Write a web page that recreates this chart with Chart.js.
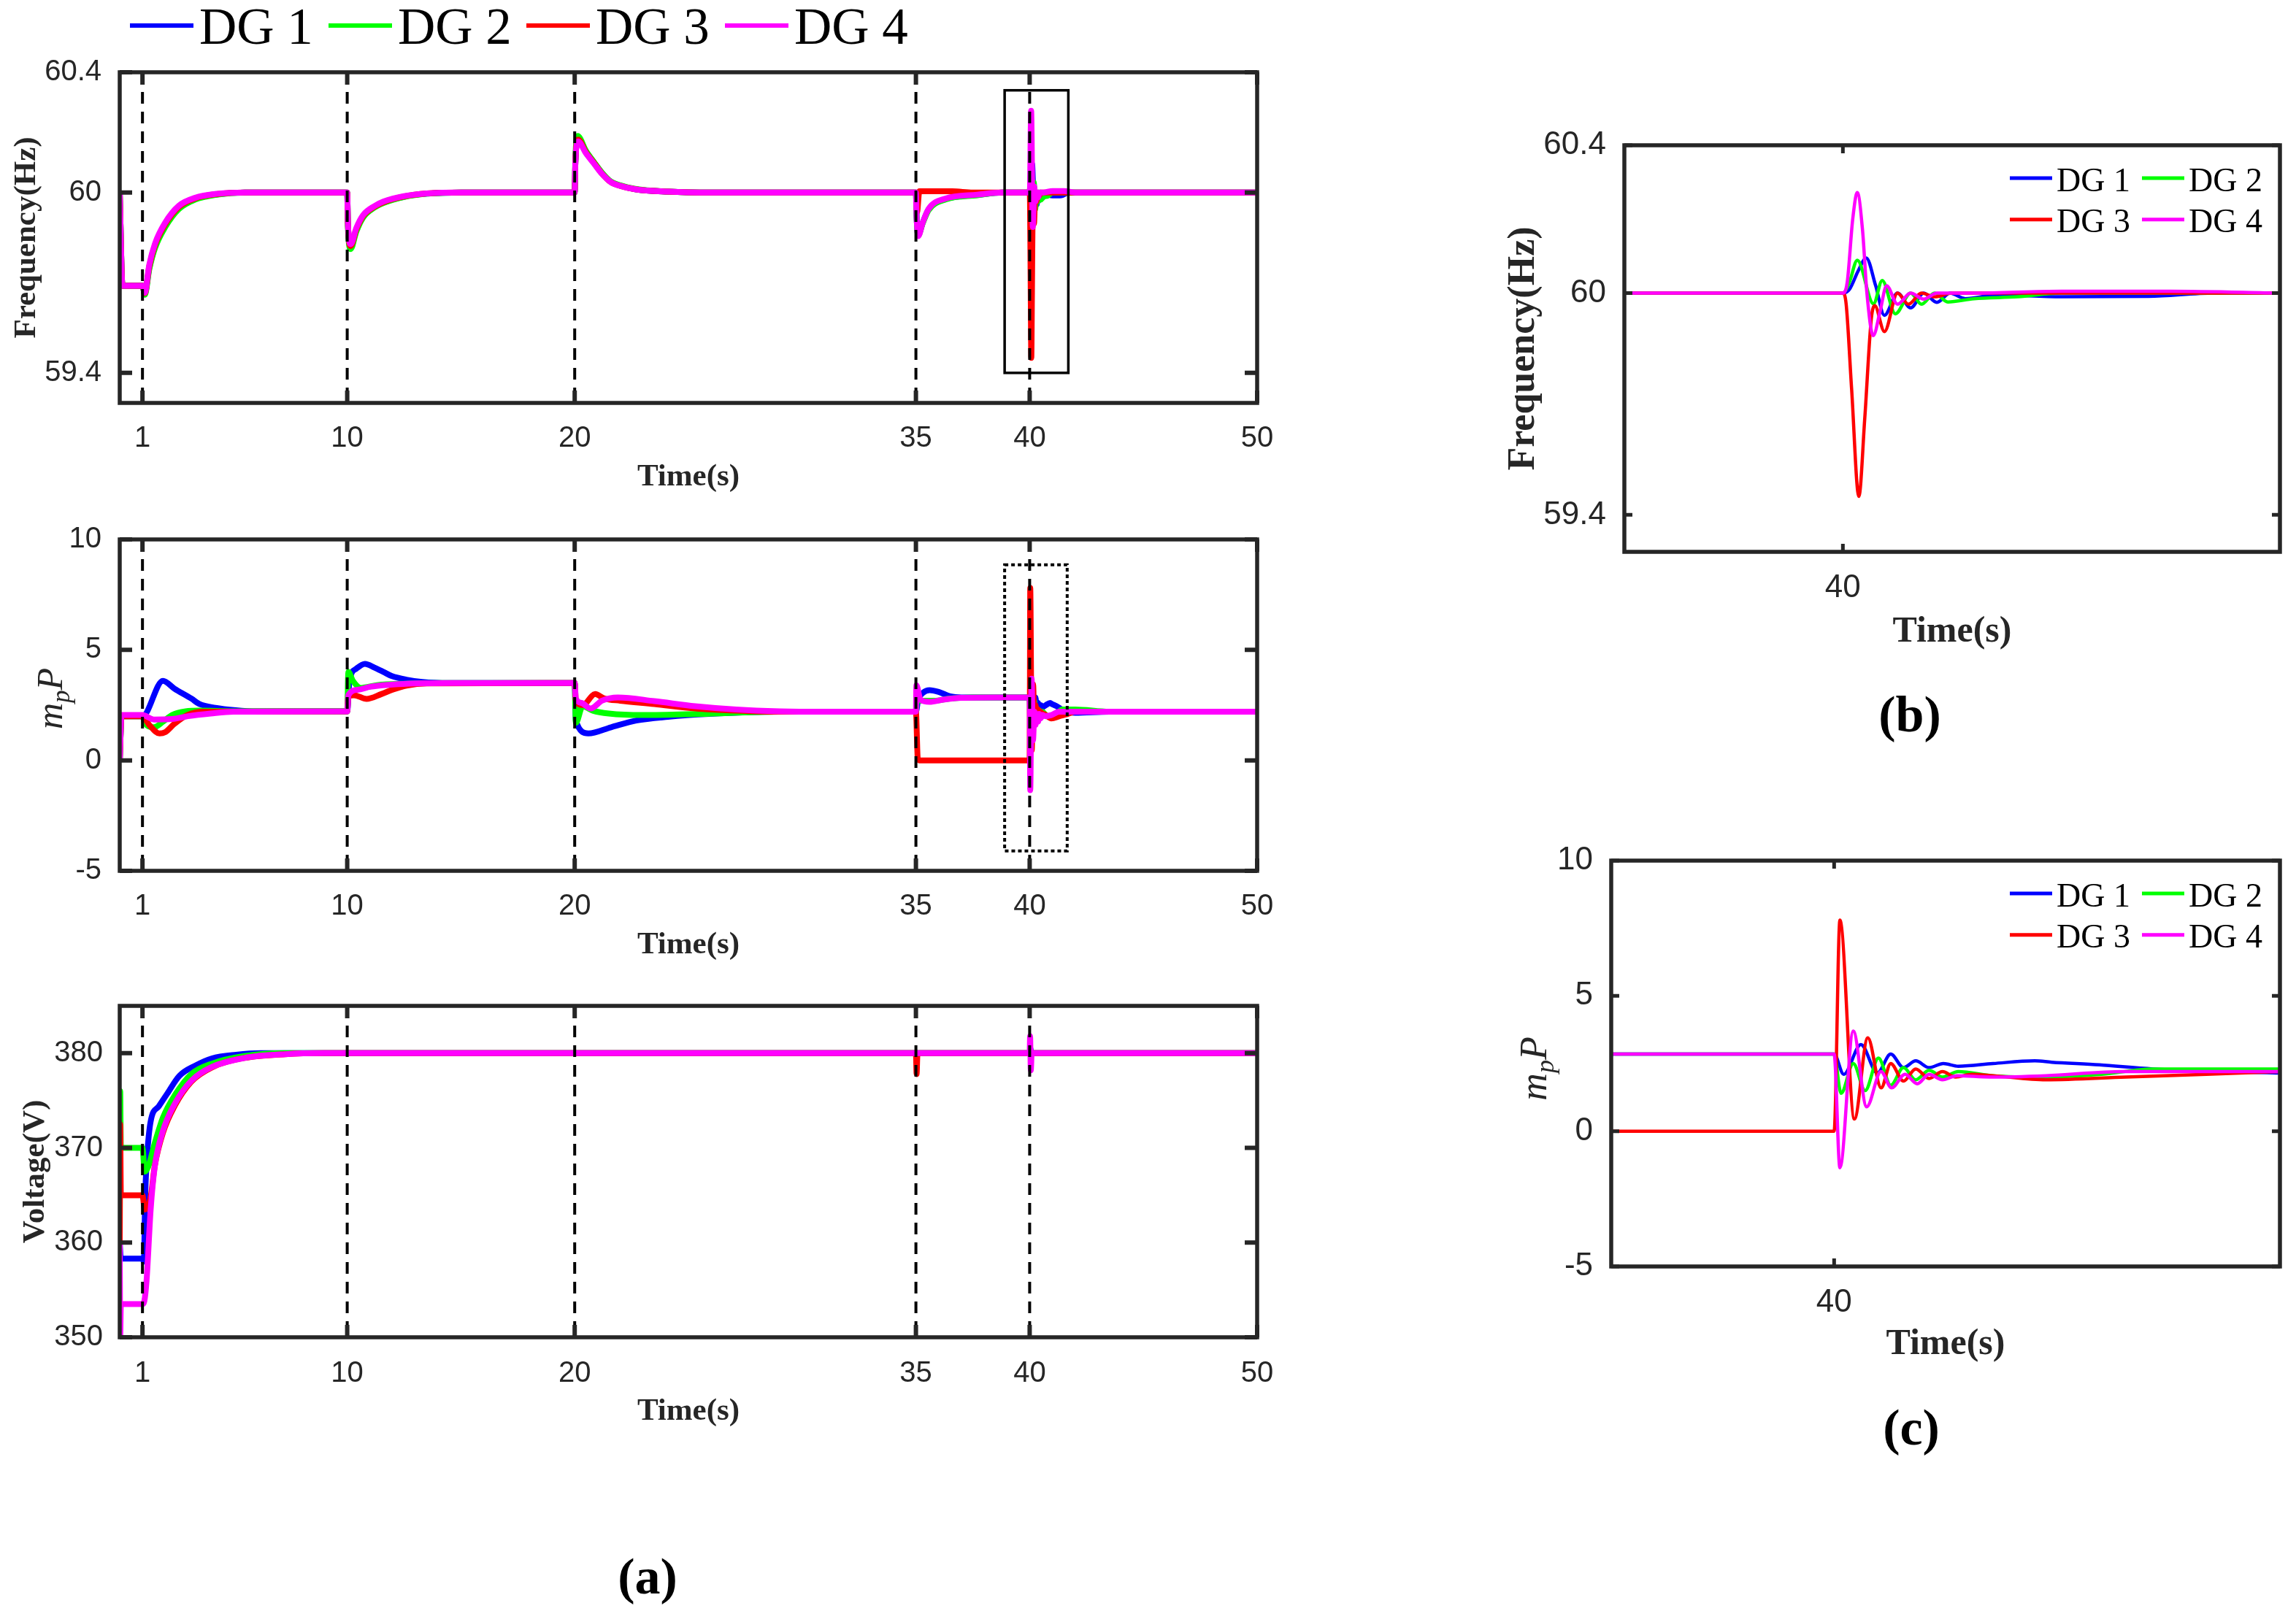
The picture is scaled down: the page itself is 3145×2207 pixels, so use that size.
<!DOCTYPE html>
<html>
<head>
<meta charset="utf-8">
<script src="https://cdn.jsdelivr.net/npm/chart.js@4.4.1/dist/chart.umd.min.js"></script>
<style>
html,body{margin:0;padding:0;background:#fff;}
#page{position:relative;width:3145px;height:2207px;overflow:hidden;background:#fff;}
canvas{position:absolute;}
.cap{position:absolute;font-family:"Liberation Serif","Times New Roman",serif;font-weight:bold;font-size:70px;line-height:1;color:#000;transform:translate(-50%,-50%);white-space:nowrap;}
</style>
</head>
<body>
<div id="page">
  <canvas id="cA1"></canvas>
  <canvas id="cA2"></canvas>
  <canvas id="cA3"></canvas>
  <canvas id="cB"></canvas>
  <canvas id="cC"></canvas>
  <div class="cap" style="left:887px;top:2160px">(a)</div>
  <div class="cap" style="left:2616px;top:979px">(b)</div>
  <div class="cap" style="left:2618px;top:1956px">(c)</div>
</div>
<script>
// ---------------- DATA ----------------
const DG_LABELS = ['DG 1', 'DG 2', 'DG 3', 'DG 4'];
const DG_COLORS = ['#0000FF', '#00FF00', '#FF0000', '#FF00FF'];
const EVENT_TIMES = [1, 10, 20, 35, 40];
const X_TICKS_MAIN = [1, 10, 20, 35, 40, 50];
const X_TICKS_ZOOM = [40];
const FREQ_TICKS = [59.4, 60, 60.4];
const MPP_TICKS = [-5, 0, 5, 10];
const VOLT_TICKS = [350, 360, 370, 380];
const FREQ_BOX = [38.9, 41.7, 59.4, 60.34];   // zoom window marked in (a)
const MPP_BOX = [38.9, 41.65, -4.1, 8.85];

// Frequency (Hz), full run (zoomed 39-42 s window is in fz*)
const fDG1 = [[0,60],[0.12,59.69],[1.0,59.69],[1.1,59.663],[1.3,59.75],[1.55,59.82],[2.0,59.89],[2.6,59.948],[3.3,59.978],[4.3,59.994],[5.5,60],[10,60],[10.03,59.9],[10.15,59.82],[10.4,59.875],[10.7,59.92],[11.2,59.952],[11.6,59.967],[12.5,59.986],[13.5,59.996],[15,60],[20,60],[20.03,60.1],[20.15,60.178],[20.5,60.135],[20.86,60.098],[21.2,60.064],[21.58,60.036],[22,60.023],[22.66,60.011],[24.1,60.003],[26,60],[35,60],[35.03,59.92],[35.1,59.86],[35.3,59.9],[35.56,59.944],[36.3,59.978],[37.7,59.992],[38.8,60],[43,60],[50,60]];
const fDG2 = [[0,60],[0.12,59.69],[1.0,59.69],[1.1,59.66],[1.3,59.745],[1.55,59.815],[2.0,59.885],[2.6,59.945],[3.3,59.976],[4.3,59.993],[5.5,60],[10,60],[10.03,59.89],[10.15,59.812],[10.4,59.87],[10.7,59.917],[11.2,59.95],[11.6,59.965],[12.5,59.985],[13.5,59.996],[15,60],[20,60],[20.03,60.11],[20.13,60.188],[20.5,60.138],[20.86,60.1],[21.2,60.066],[21.58,60.037],[22,60.024],[22.66,60.012],[24.1,60.003],[26,60],[35,60],[35.03,59.92],[35.1,59.858],[35.3,59.898],[35.56,59.942],[36.3,59.977],[37.7,59.991],[38.8,60],[43,60],[50,60]];
const fDG3 = [[0,60],[0.12,59.69],[1.0,59.69],[1.1,59.665],[1.3,59.755],[1.55,59.825],[2.0,59.895],[2.6,59.952],[3.3,59.98],[4.3,59.995],[5.5,60],[10,60],[10.03,59.9],[10.15,59.822],[10.4,59.878],[10.7,59.922],[11.2,59.953],[11.6,59.968],[12.5,59.987],[13.5,59.997],[15,60],[20,60],[20.03,60.1],[20.15,60.176],[20.5,60.133],[20.86,60.097],[21.2,60.063],[21.58,60.035],[22,60.022],[22.66,60.011],[24.1,60.003],[26,60],[35,60],[35.05,59.935],[35.15,60.004],[36.6,60.004],[37.5,60],[38.8,60],[43,60],[50,60]];
const fDG4 = [[0,60],[0.12,59.69],[1.0,59.69],[1.1,59.667],[1.3,59.76],[1.55,59.83],[2.0,59.9],[2.6,59.956],[3.3,59.982],[4.3,59.996],[5.5,60],[10,60],[10.03,59.9],[10.15,59.828],[10.4,59.882],[10.7,59.925],[11.2,59.955],[11.6,59.97],[12.5,59.988],[13.5,59.997],[15,60],[20,60],[20.03,60.1],[20.15,60.17],[20.5,60.13],[20.86,60.095],[21.2,60.062],[21.58,60.035],[22,60.022],[22.66,60.011],[24.1,60.003],[26,60],[35,60],[35.03,59.92],[35.1,59.855],[35.3,59.9],[35.56,59.946],[36.3,59.98],[37.7,59.993],[38.8,60],[43,60],[50,60]];

// Frequency, zoom 39-42 s (panel b)
const fzDG1 = [[39,60],[40,60],[40.03,60.01],[40.07,60.06],[40.107,60.095],[40.15,60.02],[40.19,59.94],[40.25,60.0],[40.31,59.96],[40.37,60.0],[40.43,59.975],[40.49,60.0],[40.56,59.985],[40.7,59.995],[41.0,59.99],[41.4,59.991],[41.7,60],[42,60]];
const fzDG2 = [[39,60],[40,60],[40.03,60.03],[40.066,60.089],[40.14,59.971],[40.18,60.034],[40.24,59.944],[40.31,60.0],[40.36,59.97],[40.42,60.0],[40.48,59.976],[40.6,59.985],[40.8,59.99],[41.0,60],[42,60]];
const fzDG3 = [[39,60],[40,60],[40.015,59.97],[40.04,59.74],[40.073,59.45],[40.1,59.66],[40.13,59.93],[40.146,59.966],[40.19,59.896],[40.25,60.0],[40.30,59.97],[40.36,60.0],[40.42,59.99],[40.5,60],[42,60]];
const fzDG4 = [[39,60],[40,60],[40.02,60.03],[40.045,60.2],[40.066,60.272],[40.09,60.17],[40.11,60.0],[40.139,59.885],[40.17,59.95],[40.2,60.02],[40.25,59.97],[40.31,60.0],[40.37,59.984],[40.43,60.0],[40.6,60.0],[41.0,60.005],[41.5,60.005],[42,60]];

// m_p P, full run
const mDG1 = [[0,0],[0.08,2.0],[1.0,2.0],[1.9,3.6],[2.4,3.25],[3.16,2.79],[3.5,2.55],[4.2,2.38],[5.1,2.27],[6,2.22],[10,2.22],[10.1,3.6],[10.4,4.15],[10.78,4.37],[11.2,4.2],[11.6,4.0],[11.95,3.82],[12.6,3.65],[13.3,3.55],[14.5,3.5],[20,3.5],[20.05,1.8],[20.6,1.22],[21.6,1.5],[22.7,1.8],[24.1,1.97],[25.9,2.1],[28.8,2.2],[35,2.2],[35.1,2.75],[35.3,3.05],[35.6,3.18],[36.0,3.1],[36.5,2.9],[37,2.85],[43.5,2.2],[50,2.2]];
const mDG2 = [[0,0],[0.08,2.0],[1.0,2.0],[1.1,1.7],[1.5,1.5],[1.9,1.75],[2.3,2.05],[2.9,2.22],[3.5,2.25],[5,2.22],[10,2.22],[10.05,4.0],[10.25,3.6],[10.6,3.28],[11.3,3.4],[12.5,3.47],[14,3.5],[20,3.5],[20.05,1.7],[20.35,2.45],[20.8,2.25],[21.5,2.12],[23,2.05],[25.5,2.1],[29,2.2],[35,2.2],[35.05,3.0],[35.2,2.7],[35.8,2.7],[36.5,2.8],[37.5,2.85],[43.5,2.2],[50,2.2]];
const mDG3 = [[0,0],[0.08,2.0],[1.0,2.0],[1.3,1.6],[1.75,1.22],[2.0,1.28],[2.4,1.65],[2.97,2.05],[3.7,2.2],[10,2.22],[10.05,2.9],[10.3,2.95],[10.85,2.78],[11.5,3.0],[12.0,3.2],[12.6,3.38],[13.5,3.48],[20,3.5],[20.05,2.7],[20.35,2.5],[20.9,3.0],[21.3,2.8],[22,2.7],[23.5,2.55],[25.3,2.35],[27.1,2.25],[29,2.2],[35,2.2],[35.08,0.1],[35.15,0],[38.5,0],[43.5,2.2],[50,2.2]];
const mDG4 = [[0,0],[0.08,2.05],[1.0,2.05],[1.5,1.85],[2.3,1.87],[3,2.0],[4,2.12],[5,2.2],[10,2.22],[10.05,2.95],[10.5,3.2],[11,3.33],[12,3.43],[13,3.48],[14.5,3.5],[20,3.5],[20.05,2.8],[20.3,2.6],[20.7,2.35],[21.2,2.7],[21.9,2.85],[23.5,2.68],[25.3,2.45],[27.1,2.3],[29,2.22],[31,2.2],[35,2.2],[35.02,3.4],[35.2,2.75],[35.6,2.65],[36.2,2.75],[37,2.83],[38.5,2.85],[43.5,2.2],[50,2.2]];

// m_p P, zoom 39-42 s (panel c)
const mzDG1 = [[39,2.85],[40,2.85],[40.043,2.1],[40.12,3.2],[40.194,2.15],[40.254,2.85],[40.311,2.35],[40.366,2.6],[40.426,2.35],[40.49,2.5],[40.557,2.4],[40.713,2.5],[40.9,2.6],[40.976,2.55],[41.19,2.45],[41.43,2.3],[42,2.15]];
const mzDG2 = [[39,2.85],[40,2.85],[40.031,1.4],[40.086,2.5],[40.139,1.5],[40.199,2.7],[40.254,1.7],[40.311,2.35],[40.366,1.9],[40.426,2.25],[40.486,2.0],[40.557,2.2],[40.71,2.05],[40.95,2.0],[41.2,2.1],[41.43,2.3],[42,2.3]];
const mzDG3 = [[39,0],[40,0],[40.026,7.8],[40.091,0.45],[40.151,3.45],[40.211,1.6],[40.254,2.5],[40.311,1.85],[40.366,2.3],[40.426,1.95],[40.486,2.2],[40.545,2.0],[40.617,2.1],[40.713,2.05],[40.95,1.9],[41.31,2.0],[41.67,2.1],[42,2.2]];
const mzDG4 = [[39,2.85],[40,2.85],[40.026,-1.35],[40.086,3.7],[40.146,0.9],[40.21,2.2],[40.258,1.6],[40.318,2.1],[40.373,1.75],[40.426,2.1],[40.486,1.9],[40.55,2.05],[40.7,2.0],[40.95,2.05],[41.3,2.2],[42,2.2]];

// Voltage (V), full run
const vDG1 = [[0,360],[0.05,358.3],[1.0,358.3],[1.06,358.0],[1.12,365],[1.2,369],[1.36,372.8],[1.72,374.4],[2.08,375.7],[2.62,377.6],[3.33,378.7],[4.05,379.45],[5.12,379.84],[6.2,380],[40,380],[40.03,380.5],[40.07,380],[50,380]];
const vDG2 = [[0,360],[0.02,376],[0.05,370],[1.0,370],[1.1,367.5],[1.25,368],[1.54,370.5],[1.9,373.2],[2.43,375.6],[3.15,377.8],[4.05,378.9],[5.48,379.7],[7.27,380],[50,380]];
const vDG3 = [[0,360],[0.02,372.5],[0.05,365],[1.0,365],[1.1,363.5],[1.36,364.8],[1.54,368.1],[1.9,371.6],[2.43,374.5],[3.15,377],[4.05,378.5],[5.48,379.5],[7.27,379.9],[9,380],[35,380],[35.03,377.8],[35.07,380],[50,380]];
const vDG4 = [[0,360],[0.02,350],[0.05,353.5],[1.0,353.5],[1.08,353.8],[1.18,356],[1.36,363.5],[1.54,368],[1.9,371.8],[2.43,374.7],[3.15,377.1],[4.05,378.55],[5.48,379.5],[7.27,379.9],[9,380],[40,380],[40.02,381.8],[40.05,378.2],[40.09,380],[50,380]];

// ---------------- HELPERS ----------------
const join = (base, zoom) => base.filter(p => p[0] < 39).concat(zoom, base.filter(p => p[0] > 42));
const toXY = arr => arr.map(p => ({x: p[0], y: p[1]}));

function datasets(series, width) {
  return series.map((s, i) => ({
    label: DG_LABELS[i],
    data: toXY(s),
    borderColor: DG_COLORS[i],
    backgroundColor: DG_COLORS[i],
    borderWidth: width,
    pointRadius: 0,
    fill: false,
    cubicInterpolationMode: 'monotone',
    order: 3 - i
  }));
}

const INK = '#262626';

const framePlugin = {
  id: 'frame',
  afterDraw(chart, args, o) {
    const ctx = chart.ctx, a = chart.chartArea, xs = chart.scales.x, ys = chart.scales.y;
    ctx.save();
    ctx.lineCap = 'butt';
    if (o.events) {
      ctx.strokeStyle = '#000'; ctx.lineWidth = o.evW; ctx.setLineDash(o.evDash);
      o.events.forEach(t => {
        const px = xs.getPixelForValue(t);
        ctx.beginPath(); ctx.moveTo(px, a.top); ctx.lineTo(px, a.bottom); ctx.stroke();
      });
    }
    if (o.box) {
      const b = o.box;
      const x0 = xs.getPixelForValue(b[0]), x1 = xs.getPixelForValue(b[1]);
      const y0 = ys.getPixelForValue(b[2]), y1 = ys.getPixelForValue(b[3]);
      ctx.strokeStyle = '#000'; ctx.lineWidth = o.boxW; ctx.setLineDash(o.boxDash || []);
      ctx.strokeRect(x0, y1, x1 - x0, y0 - y1);
    }
    ctx.setLineDash([]);
    ctx.strokeStyle = INK; ctx.lineWidth = o.tickW;
    ys.ticks.forEach(t => {
      const py = ys.getPixelForValue(t.value);
      ctx.beginPath(); ctx.moveTo(a.left, py); ctx.lineTo(a.left + o.tickLen, py);
      ctx.moveTo(a.right, py); ctx.lineTo(a.right - o.tickLen, py); ctx.stroke();
    });
    xs.ticks.forEach(t => {
      const px = xs.getPixelForValue(t.value);
      ctx.beginPath(); ctx.moveTo(px, a.bottom); ctx.lineTo(px, a.bottom - o.tickLen);
      ctx.moveTo(px, a.top); ctx.lineTo(px, a.top + o.tickLen); ctx.stroke();
    });
    ctx.lineWidth = o.borderW; ctx.lineJoin = 'miter';
    ctx.strokeRect(a.left, a.top, a.right - a.left, a.bottom - a.top);
    if (o.mp) {
      const s = o.mp.size;
      ctx.translate(o.mp.x, o.mp.y); ctx.rotate(-Math.PI / 2);
      ctx.fillStyle = INK; ctx.textBaseline = 'alphabetic'; ctx.textAlign = 'left';
      const f1 = 'italic ' + s + 'px "Liberation Serif", serif';
      const f2 = 'italic ' + Math.round(s * 0.7) + 'px "Liberation Serif", serif';
      ctx.font = f1; const wm = ctx.measureText('m').width, wP = ctx.measureText('P').width;
      ctx.font = f2; const wp = ctx.measureText('p').width;
      const x0 = -(wm + wp + wP) / 2, base = s * 0.3;
      ctx.font = f1; ctx.fillText('m', x0, base);
      ctx.font = f2; ctx.fillText('p', x0 + wm, base + s * 0.2);
      ctx.font = f1; ctx.fillText('P', x0 + wm + wp, base);
    }
    ctx.restore();
  }
};

const legendPlugin = {
  id: 'dgLegend',
  afterDraw(chart, args, o) {
    if (!o || !o.items) return;
    const ctx = chart.ctx;
    ctx.save();
    ctx.font = o.size + 'px "Liberation Serif", "Times New Roman", serif';
    ctx.textBaseline = 'alphabetic'; ctx.textAlign = 'left'; ctx.fillStyle = '#000';
    chart.data.datasets.forEach((ds, i) => {
      const it = o.items[i];
      ctx.strokeStyle = ds.borderColor; ctx.lineWidth = o.lw; ctx.setLineDash([]);
      ctx.beginPath(); ctx.moveTo(it[0], it[1]); ctx.lineTo(it[0] + o.len, it[1]); ctx.stroke();
      ctx.fillText(ds.label, it[0] + o.len + o.gap, it[1] + o.base);
    });
    ctx.restore();
  }
};

function build(id, box, area, cfg) {
  const cv = document.getElementById(id);
  cv.width = box.w; cv.height = box.h;
  cv.style.left = box.x + 'px'; cv.style.top = box.y + 'px';
  cv.style.width = box.w + 'px'; cv.style.height = box.h + 'px';
  const yW = area.left - box.x;
  const pad = {left: 0, top: area.top - box.y, right: box.x + box.w - area.right, bottom: box.y + box.h - area.bottom - cfg.xH};
  const tickFont = {family: '"Liberation Sans", Arial, sans-serif', size: cfg.tickSize, lineHeight: 1};
  const titleFont = size => ({family: '"Liberation Serif", "Times New Roman", serif', weight: 'bold', size: size, lineHeight: 1});
  return new Chart(cv, {
    type: 'line',
    data: {datasets: cfg.datasets},
    options: {
      responsive: false, animation: false, devicePixelRatio: 1,
      parsing: false, normalized: true,
      layout: {padding: pad},
      plugins: {
        legend: {display: false}, tooltip: {enabled: false}, title: {display: false},
        frame: cfg.frame, dgLegend: cfg.legend || {}
      },
      scales: {
        x: {
          type: 'linear', min: cfg.xMin, max: cfg.xMax,
          afterBuildTicks: s => { s.ticks = cfg.xTicks.map(v => ({value: v})); },
          afterFit: s => { s.height = cfg.xH; s.paddingLeft = 0; s.paddingRight = 0; },
          grid: {display: false}, border: {display: false},
          ticks: {autoSkip: false, maxRotation: 0, minRotation: 0, padding: cfg.xPad, color: INK, font: tickFont, callback: v => String(v)},
          title: {display: true, text: 'Time(s)', color: INK, font: titleFont(cfg.xTitleSize), padding: {top: 0, bottom: 0}}
        },
        y: {
          type: 'linear', min: cfg.yMin, max: cfg.yMax,
          afterBuildTicks: s => { s.ticks = cfg.yTicks.map(v => ({value: v})); },
          afterFit: s => { s.width = yW; s.paddingTop = 0; s.paddingBottom = 0; },
          grid: {display: false}, border: {display: false},
          ticks: {autoSkip: false, padding: cfg.yPad, color: INK, font: tickFont, callback: v => String(v)},
          title: {display: !!cfg.yTitle, text: cfg.yTitle || '', color: INK, font: titleFont(cfg.yTitleSize || 40),
                  padding: {top: cfg.yTitleOff || 0, bottom: 0}}
        }
      }
    },
    plugins: [framePlugin, legendPlugin]
  });
}

const mainFrame = (box, boxDash, boxW) => ({events: EVENT_TIMES, evW: 4, evDash: [16, 11], box: box, boxDash: boxDash, boxW: boxW, tickW: 6, tickLen: 17, borderW: 5.5});
const aLegendItems = [[178, 35], [450, 35], [721, 35], [993, 35]];
const zLegendItems = [[753, 94], [934, 94], [753, 150.7], [934, 150.7]];

// (a) Frequency
build('cA1', {x: 0, y: 0, w: 1780, h: 700}, {left: 164, top: 99, right: 1722, bottom: 552}, {
  datasets: datasets([join(fDG1, fzDG1), join(fDG2, fzDG2), join(fDG3, fzDG3), join(fDG4, fzDG4)], 8),
  xMin: 0, xMax: 50, xTicks: X_TICKS_MAIN, yMin: 59.3, yMax: 60.4, yTicks: FREQ_TICKS,
  xH: 123, xPad: 21, yPad: 17, tickSize: 40, xTitleSize: 43,
  yTitle: 'Frequency(Hz)', yTitleSize: 43, yTitleOff: 15,
  frame: mainFrame(FREQ_BOX, [], 3.5),
  legend: {items: aLegendItems, len: 87, gap: 8, base: 25, size: 71, lw: 6}
});
// (a) m_p P
build('cA2', {x: 0, y: 700, w: 1780, h: 640}, {left: 164, top: 739, right: 1722, bottom: 1193}, {
  datasets: datasets([join(mDG1, mzDG1), join(mDG2, mzDG2), join(mDG3, mzDG3), join(mDG4, mzDG4)], 8),
  xMin: 0, xMax: 50, xTicks: X_TICKS_MAIN, yMin: -5, yMax: 10, yTicks: MPP_TICKS,
  xH: 123, xPad: 21, yPad: 17, tickSize: 40, xTitleSize: 43,
  frame: Object.assign(mainFrame(MPP_BOX, [5, 4], 4), {mp: {x: 70, y: 257, size: 50}})
});
// (a) Voltage
build('cA3', {x: 0, y: 1340, w: 1780, h: 640}, {left: 164, top: 1378, right: 1722, bottom: 1832}, {
  datasets: datasets([vDG1, vDG2, vDG3, vDG4], 8),
  xMin: 0, xMax: 50, xTicks: X_TICKS_MAIN, yMin: 350, yMax: 385, yTicks: VOLT_TICKS,
  xH: 123, xPad: 22, yPad: 15, tickSize: 40, xTitleSize: 43,
  yTitle: 'Voltage(V)', yTitleSize: 43, yTitleOff: 27,
  frame: mainFrame(null, [], 0)
});
// (b) Frequency zoom
build('cB', {x: 2000, y: 150, w: 1145, h: 800}, {left: 2225, top: 199, right: 3123, bottom: 756}, {
  datasets: datasets([fzDG1, fzDG2, fzDG3, fzDG4], 4.5),
  xMin: 39, xMax: 42, xTicks: X_TICKS_ZOOM, yMin: 59.3, yMax: 60.4, yTicks: FREQ_TICKS,
  xH: 135, xPad: 20, yPad: 17, tickSize: 44, xTitleSize: 50,
  yTitle: 'Frequency(Hz)', yTitleSize: 52, yTitleOff: 62,
  frame: {tickW: 5, tickLen: 11, borderW: 5.5},
  legend: {items: zLegendItems, len: 58, gap: 6, base: 17.6, size: 46, lw: 5}
});
// (c) m_p P zoom
build('cC', {x: 2000, y: 1130, w: 1145, h: 800}, {left: 2207, top: 1179, right: 3123, bottom: 1735}, {
  datasets: datasets([mzDG1, mzDG2, mzDG3, mzDG4], 4.5),
  xMin: 39, xMax: 42, xTicks: X_TICKS_ZOOM, yMin: -5, yMax: 10, yTicks: MPP_TICKS,
  xH: 132, xPad: 20, yPad: 17, tickSize: 44, xTitleSize: 50,
  frame: {tickW: 5, tickLen: 11, borderW: 5.5, mp: {x: 102, y: 334, size: 52}},
  legend: {items: zLegendItems, len: 58, gap: 6, base: 17.6, size: 46, lw: 5}
});
</script>
</body>
</html>
